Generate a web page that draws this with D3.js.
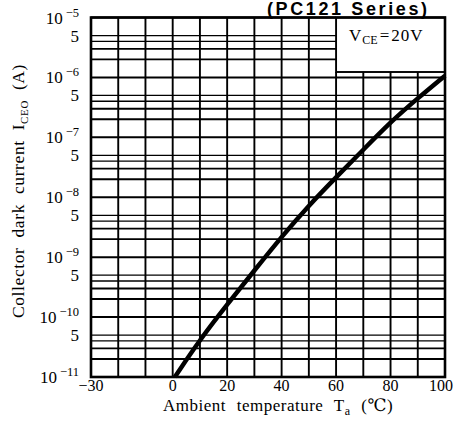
<html>
<head>
    <meta charset="utf-8">
    <script src="https://d3js.org/d3.v7.min.js"></script>
    <style type="text/css">
        body { margin: 0; background: #ffffff; }
        #chart { width: 456px; height: 421px; }
    </style>
</head>
<body>
    <div id="chart"></div>
    <script type="text/javascript">
        // ambient temperature (C) and collector dark current (A)
        const temps = [0.8, 10, 20, 30, 40, 50, 60, 70, 80, 90, 100]
        const iceo = [1e-11, 4.2e-11, 1.62e-10, 6.0e-10, 2.2e-9, 7.3e-9, 2.15e-8, 6.2e-8, 1.8e-7, 4.5e-7, 1.07e-6]

        const xTickLabels = [-30, 0, 20, 40, 60, 80, 100]
        const decadeExps = [-5, -6, -7, -8, -9, -10, -11]
        const minorMults = [2, 3, 4, 5]
        const fiveLabelExps = [-6, -7, -8, -9, -10, -11]

        const width = 456
        const height = 421
        const plotLeft = 91, plotRight = 445, plotTop = 17.5, plotBottom = 377
        const serif = "'Liberation Serif', 'DejaVu Serif', serif"

        const svg = d3.select("#chart").append("svg")
            .attr("width", width)
            .attr("height", height)

        const x = d3.scaleLinear().domain([-30, 100]).range([plotLeft, plotRight])
        const y = d3.scaleLog().domain([1e-11, 1e-5]).range([plotBottom, plotTop])

        // legend box area (grid lines stop at it)
        const boxX = x(60), boxBottom = 72

        // vertical grid
        svg.append("g").selectAll("line")
            .data(x.ticks(13))
            .join("line")
            .attr("x1", d => x(d)).attr("x2", d => x(d))
            .attr("y1", d => d >= 60 ? boxBottom : plotTop)
            .attr("y2", plotBottom)
            .attr("stroke", "#000").attr("stroke-width", 1.9)

        // horizontal grid: decades + minor 2,3,4,5
        const hLines = []
        decadeExps.forEach(e => hLines.push({ v: Math.pow(10, e), w: 2 }))
        decadeExps.slice(1).forEach(e => minorMults.forEach(m =>
            hLines.push({ v: m * Math.pow(10, e), w: m >= 4 ? 1.3 : 1.9 })))
        svg.append("g").selectAll("line")
            .data(hLines)
            .join("line")
            .attr("x1", plotLeft)
            .attr("x2", d => y(d.v) < boxBottom ? boxX : plotRight)
            .attr("y1", d => y(d.v)).attr("y2", d => y(d.v))
            .attr("stroke", "#000").attr("stroke-width", d => d.w)

        // legend box
        svg.append("rect")
            .attr("x", boxX).attr("y", plotTop)
            .attr("width", plotRight - boxX).attr("height", boxBottom - plotTop)
            .attr("fill", "#fff").attr("stroke", "#000").attr("stroke-width", 1.9)

        const leg = svg.append("text")
            .attr("x", 349).attr("y", 41)
            .attr("font-family", serif).attr("font-size", 17)
        leg.append("tspan").text("V")
        leg.append("tspan").attr("font-size", 12).attr("dx", 1).attr("dy", 3).text("CE")
        leg.append("tspan").attr("dx", 2).attr("dy", -3).text("=")
        leg.append("tspan").attr("dx", 2).attr("letter-spacing", 1).text("20V")

        // curve
        const line = d3.line()
            .x((d, i) => x(temps[i]))
            .y(d => y(d))
            .curve(d3.curveBasis)
        svg.append("path")
            .attr("d", line(iceo))
            .attr("fill", "none")
            .attr("stroke", "#000")
            .attr("stroke-width", 4.5)

        // frame
        svg.append("rect")
            .attr("x", plotLeft).attr("y", plotTop)
            .attr("width", plotRight - plotLeft).attr("height", plotBottom - plotTop)
            .attr("fill", "none").attr("stroke", "#000").attr("stroke-width", 2.6)

        // y labels
        const yl = svg.append("g").attr("font-family", serif)
        decadeExps.forEach(e => {
            const t = yl.append("text")
                .attr("x", 79).attr("y", y(Math.pow(10, e)) + 6)
                .attr("text-anchor", "end").attr("font-size", 17)
            t.append("tspan").text("10")
            t.append("tspan").attr("font-size", 12.5).attr("dx", 3).attr("dy", -7).text("\u2212" + (-e))
        })
        fiveLabelExps.forEach(e => {
            yl.append("text")
                .attr("x", 79).attr("y", y(5 * Math.pow(10, e)) + 6)
                .attr("text-anchor", "end").attr("font-size", 17)
                .text("5")
        })

        // x labels
        svg.append("g").selectAll("text")
            .data(xTickLabels)
            .join("text")
            .attr("x", d => x(d) + (d === 100 ? -4 : 0))
            .attr("y", 391)
            .attr("text-anchor", "middle")
            .attr("font-family", serif).attr("font-size", 16)
            .text(d => d < 0 ? "\u2212" + (-d) : d)

        // axis titles
        const xt = svg.append("text")
            .attr("x", 163).attr("y", 411)
            .attr("font-family", serif).attr("font-size", 17)
            .attr("letter-spacing", 0.5).attr("word-spacing", 6)
        xt.append("tspan").text("Ambient temperature T")
        xt.append("tspan").attr("font-size", 12).attr("dy", 4).text("a")
        xt.append("tspan").attr("dy", -4).text(" (\u2103)")

        const yt = svg.append("text")
            .attr("transform", "translate(24,318) rotate(-90)")
            .attr("font-family", serif).attr("font-size", 17.5)
            .attr("letter-spacing", 0.6).attr("word-spacing", 5)
        yt.append("tspan").text("Collector dark current I")
        yt.append("tspan").attr("font-size", 11).attr("dy", 4).text("CEO")
        yt.append("tspan").attr("dy", -4).text(" (A)")

        // series title at the top edge
        svg.append("text")
            .attr("x", 267).attr("y", 15)
            .attr("font-family", "'Liberation Sans', Arial, sans-serif")
            .attr("font-weight", "bold").attr("font-size", 18)
            .attr("textLength", 160).attr("lengthAdjust", "spacing")
            .text("(PC121 Series)")
    </script>
</body>
</html>
